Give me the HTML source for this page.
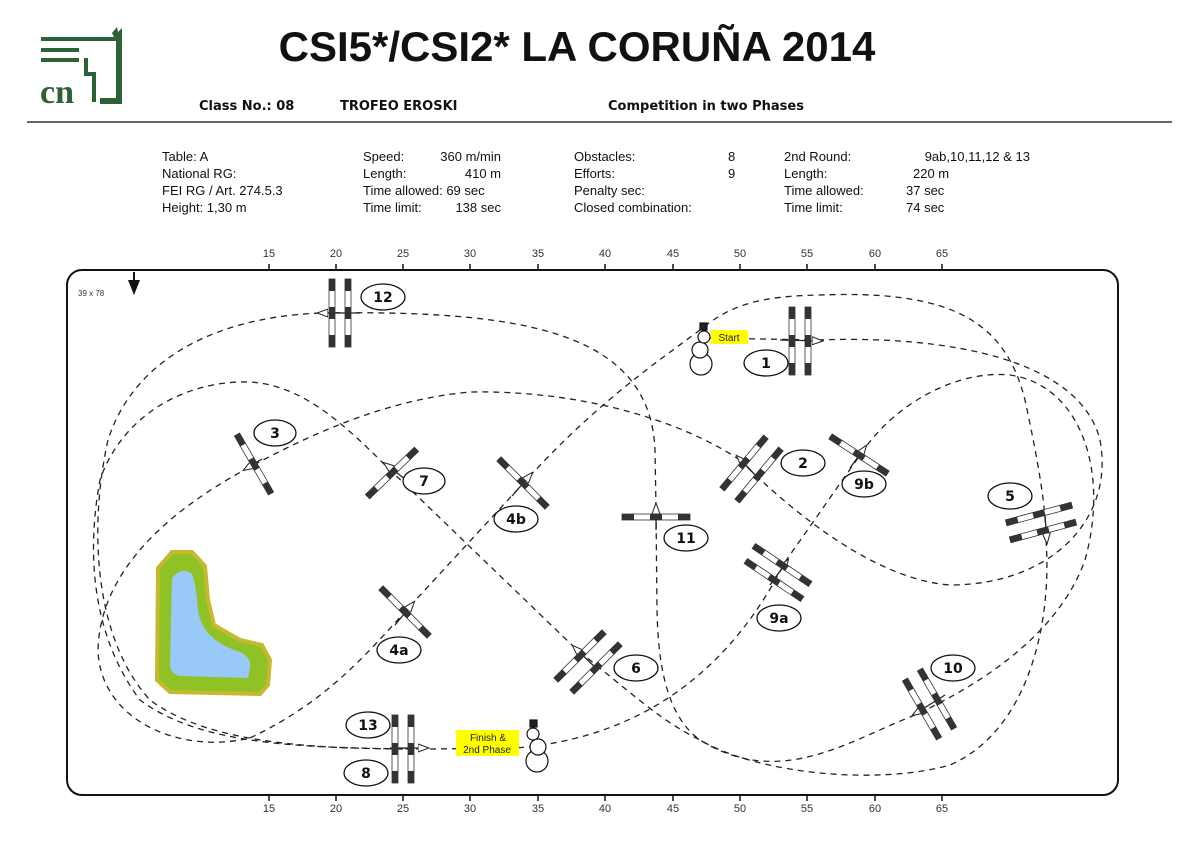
<!DOCTYPE html>
<html><head><meta charset="utf-8"><style>
html,body{margin:0;padding:0;background:#fff;}
svg{display:block;font-family:"Liberation Sans",sans-serif;}
</style></head><body>
<svg width="1200" height="851" viewBox="0 0 1200 851" xmlns="http://www.w3.org/2000/svg">
<defs>
<g id="f">
<rect x="-3" y="-34" width="6" height="68" fill="#fff" stroke="#333" stroke-width="0.8"/>
<rect x="-3" y="-34" width="6" height="12" fill="#333"/>
<rect x="-3" y="-6" width="6" height="12" fill="#333"/>
<rect x="-3" y="22" width="6" height="12" fill="#333"/>
</g>
<marker id="a" markerWidth="12" markerHeight="10" refX="10" refY="5" orient="auto" markerUnits="userSpaceOnUse"><path d="M0,1 L11,5 L0,9 Z" fill="#fff" stroke="#222" stroke-width="1"/></marker>
</defs>
<g fill="#2d6137">
<rect x="41" y="37" width="75" height="4"/>
<rect x="41" y="48" width="38" height="4"/>
<rect x="41" y="58" width="38" height="4"/>
<path d="M112 33 L117 27 L118 32 L122 28 L122 104 L100 104 L100 98 L116 98 L116 41 Z"/>
<path d="M84 58 L88 58 L88 72 L96 72 L96 102 L92 102 L92 76 L84 76 Z"/>
</g>
<text x="40" y="103" font-family="Liberation Serif,serif" font-weight="bold" font-size="34" fill="#2d6137">cn</text>
<text x="577" y="61" text-anchor="middle" font-weight="bold" font-size="42" fill="#111">CSI5*/CSI2* LA CORUÑA 2014</text>
<g font-family="DejaVu Sans,sans-serif" font-weight="bold" font-size="13" fill="#111">
<text x="199" y="110">Class No.: 08</text>
<text x="340" y="110">TROFEO EROSKI</text>
<text x="608" y="110">Competition in two Phases</text>
</g>
<line x1="27" y1="122" x2="1172" y2="122" stroke="#333" stroke-width="1.5"/>
<g font-size="13" fill="#111">
<text x="162" y="161">Table: A</text><text x="162" y="178">National RG:</text><text x="162" y="195">FEI RG / Art. 274.5.3</text><text x="162" y="212">Height: 1,30 m</text>
<text x="363" y="161">Speed:</text><text x="501" y="161" text-anchor="end">360 m/min</text>
<text x="363" y="178">Length:</text><text x="501" y="178" text-anchor="end">410 m</text>
<text x="363" y="195">Time allowed: 69 sec</text>
<text x="363" y="212">Time limit:</text><text x="501" y="212" text-anchor="end">138 sec</text>
<text x="574" y="161">Obstacles:</text><text x="728" y="161">8</text>
<text x="574" y="178">Efforts:</text><text x="728" y="178">9</text>
<text x="574" y="195">Penalty sec:</text><text x="574" y="212">Closed combination:</text>
<text x="784" y="161">2nd Round:</text><text x="1030" y="161" text-anchor="end">9ab,10,11,12 &amp; 13</text>
<text x="784" y="178">Length:</text><text x="913" y="178">220 m</text>
<text x="784" y="195">Time allowed:</text><text x="906" y="195">37 sec</text>
<text x="784" y="212">Time limit:</text><text x="906" y="212">74 sec</text>
</g>
<g font-size="11" fill="#333" text-anchor="middle">
<text x="269" y="257">15</text><text x="336" y="257">20</text><text x="403" y="257">25</text><text x="470" y="257">30</text><text x="538" y="257">35</text><text x="605" y="257">40</text><text x="673" y="257">45</text><text x="740" y="257">50</text><text x="807" y="257">55</text><text x="875" y="257">60</text><text x="942" y="257">65</text>
<text x="269" y="812">15</text><text x="336" y="812">20</text><text x="403" y="812">25</text><text x="470" y="812">30</text><text x="538" y="812">35</text><text x="605" y="812">40</text><text x="673" y="812">45</text><text x="740" y="812">50</text><text x="807" y="812">55</text><text x="875" y="812">60</text><text x="942" y="812">65</text>
</g>
<g stroke="#111" stroke-width="1.5">
<path d="M269 264V270M336 264V270M403 264V270M470 264V270M538 264V270M605 264V270M673 264V270M740 264V270M807 264V270M875 264V270M942 264V270"/>
<path d="M269 795V801M336 795V801M403 795V801M470 795V801M538 795V801M605 795V801M673 795V801M740 795V801M807 795V801M875 795V801M942 795V801"/>
</g>
<rect x="67" y="270" width="1051" height="525" rx="15" fill="none" stroke="#111" stroke-width="2"/>
<path d="M134 272 V285" stroke="#111" stroke-width="2"/><path d="M128 280 L140 280 L134 295 Z" fill="#111"/>
<text x="78" y="296" font-size="8" fill="#333">39 x 78</text>
<path d="M158 568 L172 552 L192 552 L205 566 L208 600 L214 625 L240 640 L262 645 L270 660 L268 685 L260 694 L170 692 L157 680 Z" fill="#8fc224" stroke="#c8b830" stroke-width="4"/>
<path d="M172 578 Q182 566 192 574 Q196 584 198 610 Q202 640 240 652 Q252 658 250 668 L248 678 L180 676 Q170 674 170 664 Z" fill="#99c9f7"/>
<g fill="none" stroke="#222" stroke-width="1.3" stroke-dasharray="6,5">
<path d="M705 338 L818 340"/>
<path d="M818 340 C950 335 1080 360 1100 440 C1115 520 1050 585 950 585 C880 580 800 520 740 460"/>
<path d="M740 460 C680 420 580 390 470 392 C380 400 300 440 248 468 C170 510 100 570 98 650 C100 720 180 755 250 738"/>
<path d="M250 738 C330 700 370 650 412 604 L530 476 C600 400 660 360 700 330 C730 305 760 296 820 295 C950 290 1005 320 1025 400 C1040 470 1046 510 1046 540"/>
<path d="M1046 540 C1052 620 1030 730 950 765 C880 785 760 775 700 740 C660 720 640 700 575 648"/>
<path d="M575 648 L385 465 C340 420 300 385 250 382 C180 380 120 420 100 480 C85 560 95 640 140 700 C200 745 300 748 420 749"/>
<path d="M430 749 L515 748 C620 740 720 690 785 562"/>
<path d="M785 562 L865 448 C900 400 960 370 1010 375 C1080 385 1110 470 1085 560 C1060 630 990 680 915 715"/>
<path d="M915 715 C850 740 780 790 700 740 C665 715 658 660 657 610 L656 508"/>
<path d="M656 508 L655 450 C650 330 520 310 320 313"/>
<path d="M320 313 C200 318 130 370 108 440 C88 530 95 640 150 700 C210 745 320 749 420 749"/>
</g>
<g stroke="#222" stroke-width="1.3" fill="none">
<path d="M780 340 L822 341" marker-end="url(#a)"/>
<path d="M760 480 L737 456" marker-end="url(#a)"/>
<path d="M262 459 L244 470" marker-end="url(#a)"/>
<path d="M395 625 L414 602" marker-end="url(#a)"/>
<path d="M512 496 L532 473" marker-end="url(#a)"/>
<path d="M1045 515 L1047 543" marker-end="url(#a)"/>
<path d="M598 670 L573 646" marker-end="url(#a)"/>
<path d="M405 479 L384 463" marker-end="url(#a)"/>
<path d="M390 748 L428 748" marker-end="url(#a)"/>
<path d="M770 585 L788 560" marker-end="url(#a)"/>
<path d="M850 468 L866 446" marker-end="url(#a)"/>
<path d="M945 695 L913 715" marker-end="url(#a)"/>
<path d="M656 530 L656 504" marker-end="url(#a)"/>
<path d="M360 313 L318 313" marker-end="url(#a)"/>
</g>
<use href="#f" transform="translate(332,313)"/><use href="#f" transform="translate(348,313)"/>
<use href="#f" transform="translate(792,341)"/><use href="#f" transform="translate(808,341)"/>
<use href="#f" transform="translate(744,463) rotate(40)"/><use href="#f" transform="translate(759,475) rotate(40)"/>
<use href="#f" transform="translate(859,455) rotate(-57)"/>
<use href="#f" transform="translate(254,464) rotate(-30)"/>
<use href="#f" transform="translate(392,473) rotate(46)"/>
<use href="#f" transform="translate(523,483) rotate(-45)"/>
<use href="#f" transform="translate(656,517) rotate(90)"/>
<use href="#f" transform="translate(1039,514) rotate(75)"/><use href="#f" transform="translate(1043,531) rotate(75)"/>
<use href="#f" transform="translate(782,565) rotate(-56)"/><use href="#f" transform="translate(774,580) rotate(-56)"/>
<use href="#f" transform="translate(405,612) rotate(-45)"/>
<use href="#f" transform="translate(580,656) rotate(45)"/><use href="#f" transform="translate(596,668) rotate(45)"/>
<use href="#f" transform="translate(922,709) rotate(-30)"/><use href="#f" transform="translate(937,699) rotate(-30)"/>
<use href="#f" transform="translate(395,749)"/><use href="#f" transform="translate(411,749)"/>
<g fill="#fff" stroke="#111" stroke-width="1.3">
<ellipse cx="383" cy="297" rx="22" ry="13"/><ellipse cx="766" cy="363" rx="22" ry="13"/>
<ellipse cx="275" cy="433" rx="21" ry="13"/><ellipse cx="424" cy="481" rx="21" ry="13"/>
<ellipse cx="516" cy="519" rx="22" ry="13"/><ellipse cx="686" cy="538" rx="22" ry="13"/>
<ellipse cx="803" cy="463" rx="22" ry="13"/><ellipse cx="864" cy="484" rx="22" ry="13"/>
<ellipse cx="1010" cy="496" rx="22" ry="13"/><ellipse cx="779" cy="618" rx="22" ry="13"/>
<ellipse cx="399" cy="650" rx="22" ry="13"/><ellipse cx="636" cy="668" rx="22" ry="13"/>
<ellipse cx="953" cy="668" rx="22" ry="13"/><ellipse cx="368" cy="725" rx="22" ry="13"/>
<ellipse cx="366" cy="773" rx="22" ry="13"/>
</g>
<g font-family="DejaVu Sans,sans-serif" font-weight="bold" font-size="14" fill="#111" text-anchor="middle">
<text x="383" y="302">12</text><text x="766" y="368">1</text><text x="275" y="438">3</text><text x="424" y="486">7</text>
<text x="516" y="524">4b</text><text x="686" y="543">11</text><text x="803" y="468">2</text><text x="864" y="489">9b</text>
<text x="1010" y="501">5</text><text x="779" y="623">9a</text><text x="399" y="655">4a</text><text x="636" y="673">6</text>
<text x="953" y="673">10</text><text x="368" y="730">13</text><text x="366" y="778">8</text>
</g>
<g stroke="#111" stroke-width="1.2" fill="#fff">
<circle cx="701" cy="364" r="11"/><circle cx="700" cy="350" r="8"/><circle cx="704" cy="337" r="6"/>
<rect x="700" y="323" width="7" height="7" fill="#222"/>
<circle cx="537" cy="761" r="11"/><circle cx="538" cy="747" r="8"/><circle cx="533" cy="734" r="6"/>
<rect x="530" y="720" width="7" height="7" fill="#222"/>
</g>
<rect x="711" y="330" width="37" height="14" fill="#ffff00"/>
<text x="729" y="341" font-size="10" text-anchor="middle" fill="#222">Start</text>
<rect x="456" y="730" width="63" height="26" fill="#ffff00"/>
<text x="488" y="741" font-size="10" text-anchor="middle" fill="#222">Finish &amp;</text>
<text x="487" y="753" font-size="10" text-anchor="middle" fill="#222">2nd Phase</text>
</svg>
</body></html>
